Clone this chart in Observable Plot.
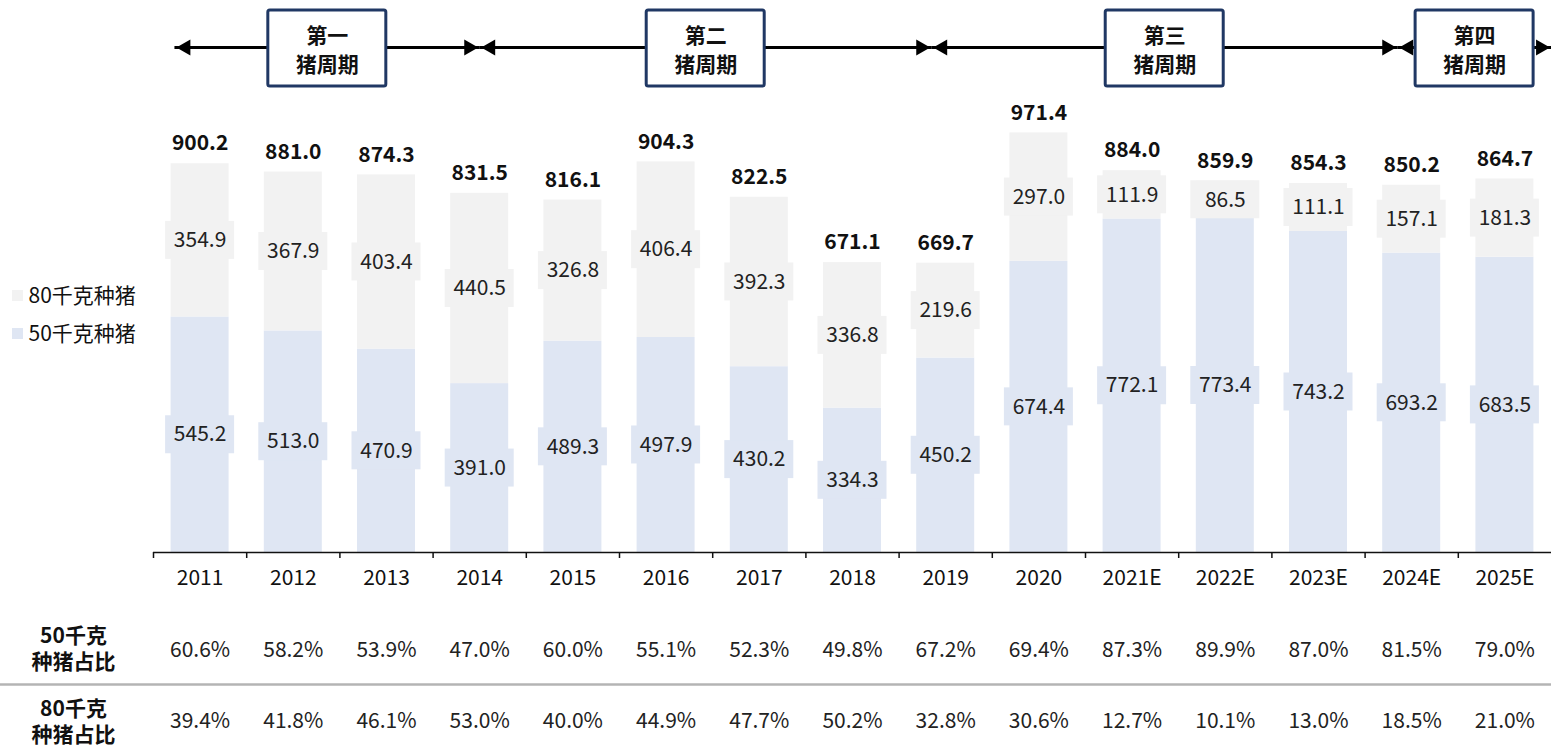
<!DOCTYPE html>
<html><head><meta charset="utf-8">
<script src="https://cdn.jsdelivr.net/npm/d3@7"></script>
<script src="https://cdn.jsdelivr.net/npm/@observablehq/plot@0.6"></script>
<style>body{margin:0;background:#fff;}</style>
</head><body><div id="chart"></div>
<script>
const years = ["2011","2012","2013","2014","2015","2016","2017","2018","2019","2020","2021E","2022E","2023E","2024E","2025E"];
const pig50 = [545.2, 513.0, 470.9, 391.0, 489.3, 497.9, 430.2, 334.3, 450.2, 674.4, 772.1, 773.4, 743.2, 693.2, 683.5];
const pig80 = [354.9, 367.9, 403.4, 440.5, 326.8, 406.4, 392.3, 336.8, 219.6, 297.0, 111.9, 86.5, 111.1, 157.1, 181.3];
const totals = [900.2, 881.0, 874.3, 831.5, 816.1, 904.3, 822.5, 671.1, 669.7, 971.4, 884.0, 859.9, 854.3, 850.2, 864.7];
const share50 = ["60.6%","58.2%","53.9%","47.0%","60.0%","55.1%","52.3%","49.8%","67.2%","69.4%","87.3%","89.9%","87.0%","81.5%","79.0%"];
const share80 = ["39.4%","41.8%","46.1%","53.0%","40.0%","44.9%","47.7%","50.2%","32.8%","30.6%","12.7%","10.1%","13.0%","18.5%","21.0%"];
const cycleNames = ["第一\n猪周期","第二\n猪周期","第三\n猪周期","第四\n猪周期"];
const cycleFrom = ["2011","2014","2019","2024E"];
const cycleTo = ["2014","2019","2024E","2025E"];
const seriesNames = ["80千克种猪","50千克种猪"];
const rowLabels = ["50千克\n种猪占比","80千克\n种猪占比"];

const C50 = "#dfe6f3", C80 = "#f2f2f2";
const idx = d3.range(years.length);
const last = years.length - 1;
const yTop = 1278;
const segs = idx.flatMap(i => [
  {i, series: seriesNames[1], y1: 0, y2: pig50[i], v: pig50[i]},
  {i, series: seriesNames[0], y1: pig50[i], y2: pig50[i] + pig80[i], v: pig80[i]}
]);
const cycles = cycleNames.map((name, k) => {
  const a = years.indexOf(cycleFrom[k]), b = years.indexOf(cycleTo[k]);
  const from = k === 0 ? a - 0.27 : a - (k >= 2 ? 0.15 : 0);
  const to = k === cycleNames.length - 1 ? b + 0.5 : b - (k >= 1 ? 0.15 : 0);
  return {name, from, to, mid: (from + to) / 2};
});
const atTop = () => yTop;

const legendMarks = seriesNames.flatMap((s, k) => [
  Plot.dot([s], {frameAnchor: "top-left", dx: -136, dy: 295 + k * 38, symbol: "square", r: 6.2, fill: k === 0 ? C80 : C50}),
  Plot.text([s], {frameAnchor: "top-left", lineAnchor: "middle", dx: -125, dy: 296 + k * 38, text: d => d, textAnchor: "start", fill: "#111"})
]);
const rowMarks = rowLabels.map((s, k) =>
  Plot.text([s], {frameAnchor: "top-left", lineAnchor: "middle", dx: -80, dy: 647.5 + k * 73, text: d => d, textAnchor: "middle", fontWeight: "bold", lineHeight: 1.2, fill: "#111"})
);

const plot = Plot.plot({
  width: 1551, height: 745,
  marginLeft: 153, marginRight: 0, marginTop: 0, marginBottom: 193,
  style: {fontFamily: "'Noto Sans CJK SC', 'Noto Sans', sans-serif", fontSize: "21px", background: "#fff", color: "#111"},
  x: {type: "linear", domain: [-0.5, last + 0.5], axis: null},
  y: {domain: [0, yTop], axis: null},
  color: {domain: seriesNames, range: [C80, C50]},
  marks: [
    Plot.rect(segs, {x1: d => d.i - 0.5, x2: d => d.i + 0.5, y1: "y1", y2: "y2", fill: "series", insetLeft: 17.6, insetRight: 17.6}),
    Plot.rect(segs, {x1: "i", x2: "i", y1: d => (d.y1 + d.y2) / 2, y2: d => (d.y1 + d.y2) / 2, fill: "series", insetLeft: -34.5, insetRight: -34.5, insetTop: -19, insetBottom: -19}),
    Plot.text(segs, {x: "i", y: d => (d.y1 + d.y2) / 2, text: d => d.v.toFixed(1), fill: "#222"}),
    Plot.text(idx, {x: i => i, y: i => pig50[i] + pig80[i], text: i => totals[i].toFixed(1), dy: -20, fontWeight: "bold", fill: "#111"}),
    Plot.ruleY([0], {stroke: "#111", strokeWidth: 1.5}),
    Plot.axisX(idx.map(i => i - 0.5), {tickSize: 6, fill: "none", stroke: "#111", strokeWidth: 1.5, label: null}),
    Plot.axisX(idx, {tickSize: 0, tickPadding: 18, tickFormat: i => years[i], label: null, fill: "#111"}),
    Plot.text(idx, {x: i => i, y: 0, dy: 98, text: i => share50[i], fill: "#222"}),
    Plot.text(idx, {x: i => i, y: 0, dy: 169, text: i => share80[i], fill: "#222"}),
    Plot.ruleY([0], {dy: 132, stroke: "#b4b4b4", strokeWidth: 2.5, insetLeft: -153}),
    ...rowMarks,
    ...legendMarks,
    Plot.ruleY(cycles, {x1: "from", x2: "to", y: atTop, dy: 47, stroke: "#000", strokeWidth: 3}),
    Plot.dot(cycles, {x: "from", y: atTop, dy: 47, dx: 10.8, symbol: "triangle", rotate: -90, r: 6, fill: "#000", stroke: "none"}),
    Plot.dot(cycles, {x: "to", y: atTop, dy: 47, dx: -10.8, symbol: "triangle", rotate: 90, r: 6, fill: "#000", stroke: "none"}),
    Plot.rect(cycles, {x1: "mid", x2: "mid", y1: atTop, y2: atTop, dy: 48, insetLeft: -59, insetRight: -59, insetTop: -38, insetBottom: -38, fill: "#fff", stroke: "#203864", strokeWidth: 3, rx: 2}),
    Plot.text(cycles, {x: "mid", y: atTop, dy: 48, text: "name", fontWeight: "bold", lineHeight: 1.38, fill: "#111"})
  ]
});
document.getElementById("chart").appendChild(plot);
</script>
</body></html>
